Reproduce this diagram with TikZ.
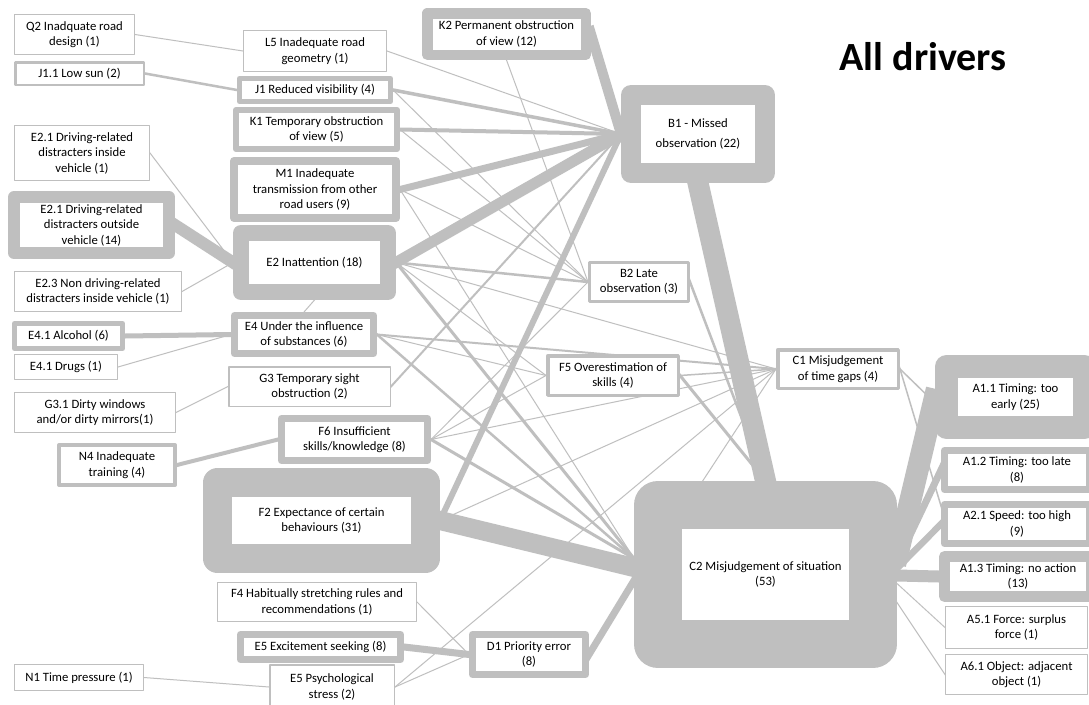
\documentclass[tikz,border=0pt]{standalone}
\usepackage{fontspec}
\setmainfont{Carlito}
\usetikzlibrary{backgrounds}
\definecolor{bord}{HTML}{BFBFBF}
\newcommand{\boxfont}{\fontsize{12.7}{15.5}\selectfont}
\begin{document}
\begin{tikzpicture}[x=1pt,y=-1pt,
  bx/.style={draw=bord, fill=white, line width=#1, outer sep=#1/2, line join=round, align=center, inner sep=0pt, font=\boxfont},
  ed/.style={draw=bord, line width=#1, shorten >=-8pt, shorten <=-8pt}]
\useasboundingbox (0,0) rectangle (1089,704);
% left column
\node[bx=1pt, minimum width=120pt, minimum height=40pt] (q2) at (74.5,34.5) {Q2 Inadquate road\\design (1)};
\node[bx=2.5pt, minimum width=128.5pt, minimum height=22.5pt] (j11) at (79.5,73.5) {J1.1 Low sun (2)};
\node[bx=1pt, minimum width=135pt, minimum height=55pt] (e21i) at (82,153) {E2.1 Driving-related\\distracters inside\\vehicle (1)};
\node[bx=12pt, minimum width=155pt, minimum height=56pt] (e21o) at (91.5,225) {E2.1 Driving-related\\distracters outside\\vehicle (14)};
\node[bx=1pt, minimum width=167pt, minimum height=40pt] (e23) at (98,291.5) {E2.3 Non driving-related\\distracters inside vehicle (1)};
\node[bx=5pt, minimum width=108pt, minimum height=25pt] (e41a) at (68.5,336) {E4.1 Alcohol (6)};
\node[bx=1pt, minimum width=103pt, minimum height=25pt] (e41d) at (66,367) {E4.1 Drugs (1)};
\node[bx=1pt, minimum width=161pt, minimum height=40pt] (g31) at (95,412.5) {G3.1 Dirty windows\\and/or dirty mirrors(1)};
\node[bx=4pt, minimum width=116pt, minimum height=40pt] (n4) at (117,465) {N4 Inadequate\\training (4)};
\node[bx=1pt, minimum width=129pt, minimum height=26pt] (n1) at (79,677.5) {N1 Time pressure (1)};
% second column
\node[bx=1pt, minimum width=143pt, minimum height=41pt] (l5) at (315,51) {L5 Inadequate road\\geometry (1)};
\node[bx=5pt, minimum width=151pt, minimum height=23pt] (j1) at (315,90) {J1 Reduced visibility (4)};
\node[bx=6pt, minimum width=161pt, minimum height=39pt] (k1) at (316.5,129.5) {K1 Temporary obstruction\\of view (5)};
\node[bx=8pt, minimum width=162pt, minimum height=57pt] (m1) at (315,189.5) {M1 Inadequate\\transmission from other\\road users (9)};
\node[bx=16pt, minimum width=147pt, minimum height=59pt] (e2) at (314.5,262.5) {E2 Inattention (18)};
\node[bx=7pt, minimum width=139pt, minimum height=38pt] (e4) at (304,334.5) {E4 Under the influence\\of substances (6)};
\node[bx=1.5pt, minimum width=161.5pt, minimum height=39.5pt] (g3) at (309.5,386.5) {G3 Temporary sight\\obstruction (2)};
\node[bx=7pt, minimum width=146pt, minimum height=42pt] (f6) at (354.5,439.5) {F6 Insufficient\\skills/knowledge (8)};
\node[bx=29pt, minimum width=208pt, minimum height=76pt] (f2) at (321.5,520.5) {F2 Expectance of certain\\behaviours (31)};
\node[bx=1pt, minimum width=199pt, minimum height=39pt] (f4) at (317,602) {F4 Habitually stretching rules and\\recommendations (1)};
\node[bx=7pt, minimum width=160pt, minimum height=25pt] (e5e) at (320.5,647) {E5 Excitement seeking (8)};
\node[bx=1.5pt, minimum width=124.5pt, minimum height=44.5pt] (e5p) at (332,687) {E5 Psychological\\stress (2)};
% middle
\node[bx=10.5pt, minimum width=158.5pt, minimum height=41.5pt] (k2) at (506.5,34) {K2 Permanent obstruction\\of view (12)};
\node[bx=20pt, minimum width=134pt, minimum height=78pt] (b1) at (698,134) {B1 - Missed\\[4pt]observation (22)};
\node[bx=3pt, minimum width=99pt, minimum height=39pt] (b2) at (639,282) {B2 Late\\observation (3)};
\node[bx=3.5pt, minimum width=130.5pt, minimum height=39.5pt] (f5) at (613,375.5) {F5 Overestimation of\\skills (4)};
\node[bx=3.5pt, minimum width=120.5pt, minimum height=38.5pt] (c1) at (838,369) {C1 Misjudgement\\of time gaps (4)};
\node[bx=7pt, minimum width=113pt, minimum height=40pt] (d1) at (529,654.5) {D1 Priority error\\(8)};
\node[bx=48pt, minimum width=215pt, minimum height=139pt] (c2) at (765.5,574.5) {C2 Misjudgement of situation\\(53)};
% right column
\node[bx=23pt, minimum width=138pt, minimum height=61pt] (a11) at (1015.5,397) {A1.1 Timing: too\\early (25)};
\node[bx=7pt, minimum width=145pt, minimum height=39pt] (a12) at (1017,470) {A1.2 Timing: too late\\(8)};
\node[bx=7pt, minimum width=145pt, minimum height=39pt] (a21) at (1017,524) {A2.1 Speed: too high\\(9)};
\node[bx=11pt, minimum width=147pt, minimum height=40pt] (a13) at (1018,576.5) {A1.3 Timing: no action\\(13)};
\node[bx=1pt, minimum width=142pt, minimum height=42pt] (a51) at (1016.5,627.5) {A5.1 Force: surplus\\force (1)};
\node[bx=1pt, minimum width=142pt, minimum height=40pt] (a61) at (1016.5,674.5) {A6.1 Object: adjacent\\object (1)};
% title
\node[font=\fontsize{40}{48}\selectfont\bfseries, inner sep=0pt] (title) at (923,57) {All drivers};
\begin{scope}[on background layer]
\fill[white] (0,0) rectangle (1089,704);
% leaves
\draw[ed=1pt] (q2.east) -- (l5.west);
\draw[ed=2.5pt] (j11.east) -- (j1.west);
\draw[ed=1pt] (e21i.east) -- (e2.west);
\draw[ed=12pt] (e21o.east) -- (e2.west);
\draw[ed=1pt] (e23.east) -- (e2.west);
\draw[ed=5pt] (e41a.east) -- (e4.west);
\draw[ed=1pt] (e41d.east) -- (e4.west);
\draw[ed=1pt] (g31.east) -- (g3.west);
\draw[ed=4pt] (n4.east) -- (f6.west);
\draw[ed=1pt] (n1.east) -- (e5p.west);
\draw[ed=1pt] (e4.north) -- (e2.south);
% to B1
\draw[ed=1pt] (l5.east) -- (b1.west);
\draw[ed=3.5pt] (j1.east) -- (b1.west);
\draw[ed=4pt] (k1.east) -- (b1.west);
\draw[ed=7pt] (m1.east) -- (b1.west);
\draw[ed=11pt] (e2.east) -- (b1.west);
\draw[ed=2pt] (g3.east) -- (b1.west);
\draw[ed=6pt] (f2.east) -- (b1.west);
\draw[ed=10pt] (k2.east) -- (b1.west);
% to B2
\draw[ed=1pt] (k2.south) -- (b2.west);
\draw[ed=1pt] (j1.east) -- (b2.west);
\draw[ed=1pt] (k1.east) -- (b2.west);
\draw[ed=1pt] (m1.east) -- (b2.west);
\draw[ed=2.5pt] (e2.east) -- (b2.west);
\draw[ed=1pt] (f6.east) -- (b2.west);
% to F5
\draw[ed=1pt] (e4.east) -- (f5.west);
\draw[ed=1pt] (f6.east) -- (f5.west);
\draw[ed=1pt] (e2.east) -- (f5.west);
% to C1
\draw[ed=1pt] (e2.east) -- (c1.west);
\draw[ed=2pt] (e4.east) -- (c1.west);
\draw[ed=1pt] (f6.east) -- (c1.west);
\draw[ed=1.5pt] (f5.east) -- (c1.west);
\draw[ed=1pt] (f2.east) -- (c1.west);
\draw[ed=1pt] (e5p.east) -- (c1.west);
\draw[ed=1pt] (d1.east) -- (c1.west);
% to C2
\draw[ed=19pt] (f2.east) -- ([yshift=7pt]c2.west);
\draw[ed=3pt] (e2.east) -- ([yshift=16pt]c2.west);
\draw[ed=1pt] (m1.east) -- ([yshift=16pt]c2.west);
\draw[ed=2.5pt] (e4.east) -- ([yshift=16pt]c2.west);
\draw[ed=3pt] (f6.east) -- ([yshift=16pt]c2.west);
\draw[ed=7pt] (d1.east) -- ([yshift=-6pt]c2.west);
\draw[ed=21pt] (b1.south) -- (c2.north);
\draw[ed=2.5pt] (b2.east) -- (c2.north);
\draw[ed=3pt] (f5.east) -- (c2.north);
% to D1
\draw[ed=1pt] (f4.east) -- (d1.west);
\draw[ed=7pt] (e5e.east) -- (d1.west);
\draw[ed=1pt] (e5p.east) -- (d1.west);
% to A
\draw[ed=22pt] ([yshift=18pt]c2.east) -- (a11.west);
\draw[ed=7pt] ([yshift=12pt]c2.east) -- (a12.west);
\draw[ed=6.5pt] ([yshift=6pt]c2.east) -- (a21.west);
\draw[ed=12pt] ([yshift=-1pt]c2.east) -- (a13.west);
\draw[ed=1pt] ([yshift=-9pt]c2.east) -- (a51.west);
\draw[ed=1pt] ([yshift=-28pt]c2.east) -- (a61.west);
\draw[ed=1.5pt] (c1.east) -- ([yshift=-6pt]a11.west);
\draw[ed=1.5pt] (c1.east) -- ([yshift=18pt]a21.west);
\end{scope}
\end{tikzpicture}
\end{document}
